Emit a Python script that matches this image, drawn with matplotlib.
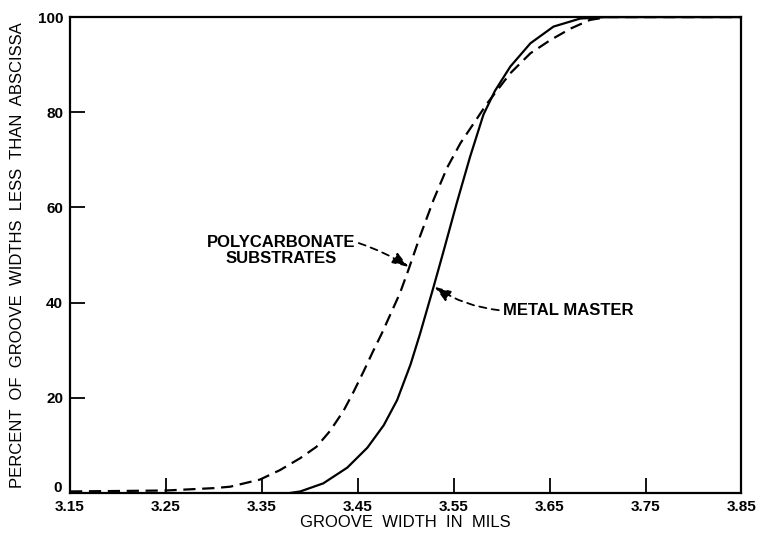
import matplotlib
matplotlib.use("Agg")
import matplotlib.pyplot as plt
from matplotlib.transforms import ScaledTranslation

plt.rcParams['font.family'] = ['Liberation Sans', 'DejaVu Sans']

# cumulative groove width distributions (percent below abscissa)
metal_x = [3.38, 3.39, 3.414, 3.439, 3.46, 3.477, 3.491, 3.505, 3.515, 3.529,
           3.539, 3.553, 3.567, 3.581, 3.593, 3.609, 3.63, 3.654, 3.682,
           3.71, 3.85]
metal_y = [0.0, 0.3, 2.0, 5.3, 9.5, 14.2, 19.5, 27.0, 33.5, 43.3,
           50.5, 60.8, 70.6, 79.5, 84.5, 89.6, 94.5, 98.0, 99.7,
           100.0, 100.0]

poly_x = [3.15, 3.25, 3.30, 3.317, 3.348, 3.369, 3.39, 3.407, 3.421, 3.435,
          3.445, 3.456, 3.466, 3.475, 3.494, 3.503, 3.515, 3.529, 3.543,
          3.557, 3.571, 3.585, 3.609, 3.63, 3.651, 3.672, 3.692, 3.71, 3.85]
poly_y = [0.3, 0.5, 1.0, 1.3, 2.8, 4.8, 7.3, 9.7, 13.0, 17.2,
          21.0, 25.5, 29.8, 33.5, 42.0, 47.0, 54.0, 61.6, 68.3,
          73.5, 77.7, 81.9, 88.2, 92.4, 95.2, 97.6, 99.4, 100.0, 100.0]

xticks = [3.15, 3.25, 3.35, 3.45, 3.55, 3.65, 3.75, 3.85]
yticks = [0, 20, 40, 60, 80, 100]

fig = plt.figure(figsize=(7.57, 5.34), dpi=100)
ax = fig.add_axes([0.0925, 0.077, 0.887, 0.891])

ax.plot(metal_x, metal_y, color='black', lw=1.6, solid_joinstyle='round')
ax.plot(poly_x, poly_y, color='black', lw=1.6, dashes=(5.5, 3.0))

ax.set_xlim(3.15, 3.85)
ax.set_ylim(0, 100)
ax.set_xticks(xticks)
ax.set_xticklabels([f"{v:.2f}" for v in xticks])
ax.set_yticks(yticks)
ax.tick_params(direction='in', length=11, width=1.3, labelsize=11, pad=5)
for t in ax.get_xticklabels() + ax.get_yticklabels():
    t.set_fontweight('bold')

# lift the "0" so it clears the 3.15 label
zero = ax.get_yticklabels()[0]
zero.set_transform(zero.get_transform() +
                   ScaledTranslation(-1 / 100, 6 / 100, fig.dpi_scale_trans))

# no tick marks at the corners
for tk in (ax.xaxis.get_major_ticks()[0], ax.xaxis.get_major_ticks()[-1],
           ax.yaxis.get_major_ticks()[0], ax.yaxis.get_major_ticks()[-1]):
    tk.tick1line.set_visible(False)

for sp in ax.spines.values():
    sp.set_linewidth(1.6)

ax.set_xlabel("GROOVE  WIDTH  IN  MILS", fontsize=12, labelpad=1)
ax.set_ylabel("PERCENT  OF  GROOVE  WIDTHS  LESS  THAN  ABSCISSA",
              fontsize=12, labelpad=9)

arrow = dict(arrowstyle='-|>,head_length=0.7,head_width=0.25', color='black',
             lw=1.3, linestyle=(0, (4, 3)), mutation_scale=14,
             shrinkA=0, shrinkB=0)

ax.text(3.447, 51.0, "POLYCARBONATE\nSUBSTRATES", ha='right', va='center',
        multialignment='center', fontsize=12, fontweight='bold',
        linespacing=1.05)
ax.annotate("", xy=(3.503, 47.5), xytext=(3.451, 52.5),
            arrowprops=dict(arrow, connectionstyle='arc3,rad=-0.06'))

ax.text(3.601, 38.4, "METAL MASTER", ha='left', va='center', fontsize=12,
        fontweight='bold')
ax.annotate("", xy=(3.530, 43.3), xytext=(3.597, 38.4),
            arrowprops=dict(arrow, connectionstyle='arc3,rad=-0.12'))

fig.savefig("out.png", dpi=100)
